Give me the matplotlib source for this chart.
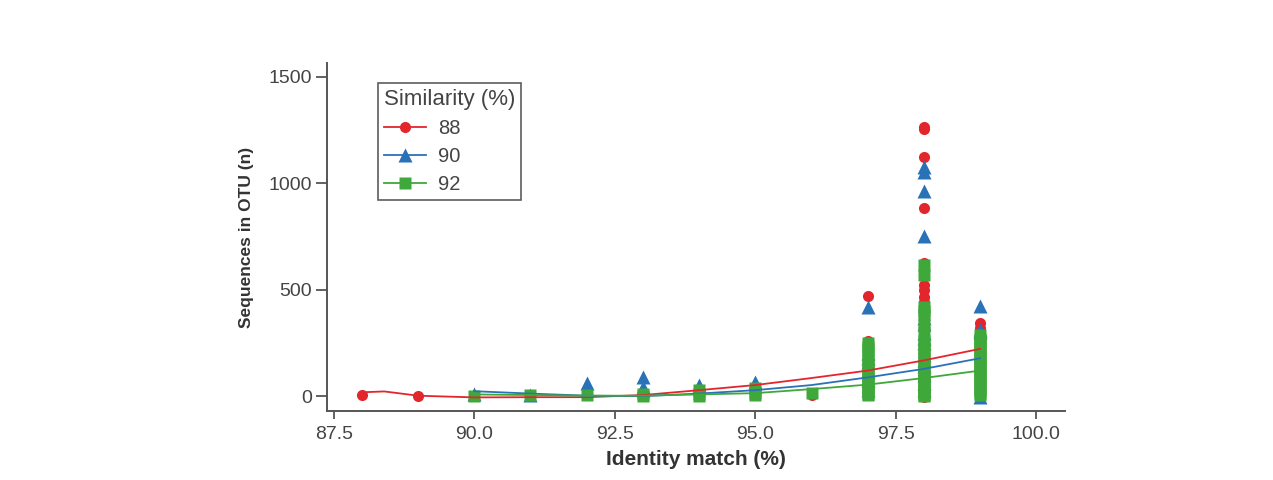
import matplotlib
matplotlib.use("Agg")
import matplotlib.pyplot as plt
from matplotlib.lines import Line2D

plt.rcParams['font.family'] = ['Liberation Sans', 'DejaVu Sans']

# identity match (%) and sequences per OTU, one list pair per similarity level
red_x = [88, 89, 90, 91, 92, 93, 94, 95, 96,
         97, 97, 97, 97, 97,
         98, 98, 98, 98, 98, 98, 98, 98, 98, 98, 98, 98, 98, 98, 98, 98, 98,
         99, 99, 99, 99, 99]
red_y = [3, 2, 2, 2, 3, 4, 6, 8, 5,
         470, 258, 200, 100, 20,
         1265, 1255, 1125, 885, 625, 522, 498, 465, 442, 343, 300, 250, 200, 150, 100, 50, -2,
         343, 318, 200, 100, 10]

blue_x = [90, 91, 92, 92, 93, 93, 93, 94, 95,
          97, 97, 97, 97, 97, 97, 97,
          98, 98, 98, 98, 98, 98, 98, 98, 98, 98, 98, 98, 98, 98, 98,
          99, 99, 99, 99]
blue_y = [8, 6, 60, 28, 92, 42, 28, 52, 68,
          420, 202, 180, 160, 120, 75, 30,
          1075, 1055, 965, 750, 367, 340, 296, 273, 250, 193, 170, 140, 100, 60, 30,
          423, 310, 300, -3]

green_x = [90, 91, 92, 93, 93, 94, 94, 94, 95, 95, 95, 96,
           97, 97, 97, 97, 97, 97, 97, 97, 97, 97, 97, 97, 97, 97, 97, 97,
           98, 98, 98, 98, 98, 98, 98, 98, 98, 98, 98, 98, 98, 98, 98, 98,
           98, 98, 98, 98, 98, 98, 98, 98, 98,
           99, 99, 99, 99, 99, 99, 99, 99, 99, 99, 99, 99, 99, 99, 99, 99,
           99, 99, 99, 99]
green_y = [2, 3, 5, 10, 2, 28, 12, 2, 38, 15, 3, 15,
           250, 232, 215, 195, 170, 150, 130, 110, 95, 80, 65, 50, 35, 22, 10, 3,
           616, 569, 418, 400, 380, 340, 300, 260, 240, 220, 200, 180, 160, 140, 120,
           100, 85, 70, 55, 40, 30, 20, 10, 5, 2,
           287, 270, 255, 240, 225, 210, 195, 180, 165, 150, 135, 120, 105, 90, 75, 60,
           45, 30, 15, 4]

# smoothed trend
red_fit_x = [88, 88.4, 89, 90, 91, 92, 93, 94, 95, 96, 97, 98, 99]
red_fit_y = [18, 22, 2, -6, -5, -5, 5, 28, 52, 85, 120, 168, 222]
blue_fit_x = [90, 91, 92, 93, 94, 95, 96, 97, 98, 99]
blue_fit_y = [23, 12, 2, 0, 12, 28, 52, 88, 128, 178]
green_fit_x = [90, 91, 92, 93, 94, 95, 96, 97, 98, 99]
green_fit_y = [8, 5, 2, 2, 8, 14, 33, 54, 85, 120]

labels = ["88", "90", "92"]
RED, BLUE, GREEN = "#e3262b", "#2a72b8", "#3fa83a"

fig = plt.figure(figsize=(12.73, 4.8), dpi=100)
ax = fig.add_axes([0.2569, 0.1437, 0.5797, 0.7251])

ax.plot(red_x, red_y, 'o', color=RED, ms=8, mec='none', zorder=2)
ax.plot(blue_x, blue_y, '^', color=BLUE, ms=9.5, mec='none', zorder=3)
ax.plot(green_x, green_y, 's', color=GREEN, ms=8.5, mec='none', zorder=4)

ax.plot(red_fit_x, red_fit_y, '-', color=RED, lw=1.3, zorder=5)
ax.plot(blue_fit_x, blue_fit_y, '-', color=BLUE, lw=1.3, zorder=5)
ax.plot(green_fit_x, green_fit_y, '-', color=GREEN, lw=1.3, zorder=5)

ax.set_xlim(87.38, 100.51)
ax.set_ylim(-70, 1565)
ax.set_xticks([87.5, 90, 92.5, 95, 97.5, 100])
ax.set_xticklabels(["87.5", "90.0", "92.5", "95.0", "97.5", "100.0"])
ax.set_yticks([0, 500, 1000, 1500])

for s in ['top', 'right']:
    ax.spines[s].set_visible(False)
for s in ['left', 'bottom']:
    ax.spines[s].set_color('#555555')
    ax.spines[s].set_linewidth(1.4)
ax.tick_params(axis='both', colors='#555555', labelcolor='#444444', labelsize=14, width=1.3)
ax.tick_params(axis='y', length=8, pad=3)
ax.tick_params(axis='x', length=6, pad=5)

ax.set_xlabel("Identity match (%)", fontsize=15, fontweight='bold', color='#333333', labelpad=5)
ax.set_ylabel("Sequences in OTU (n)", fontsize=12.5, fontweight='bold', color='#333333', labelpad=10)

handles = [Line2D([0], [0], color=RED, marker='o', ms=8, mec='none', lw=1.3),
           Line2D([0], [0], color=BLUE, marker='^', ms=9.5, mec='none', lw=1.3),
           Line2D([0], [0], color=GREEN, marker='s', ms=8.5, mec='none', lw=1.3)]
leg = ax.legend(handles, labels, title="Similarity (%)", loc='upper left',
                bbox_to_anchor=(0.069, 0.9425), borderaxespad=0, fontsize=14.5,
                title_fontsize=16, frameon=True, fancybox=False, edgecolor='#333333',
                handlelength=2.1, handletextpad=0.6, labelspacing=0.45,
                borderpad=0.3, labelcolor='#444444')
leg.get_frame().set_linewidth(1.2)
leg.get_title().set_color('#444444')
leg._legend_box.align = "left"

fig.savefig("out.png", dpi=100, facecolor='white')
